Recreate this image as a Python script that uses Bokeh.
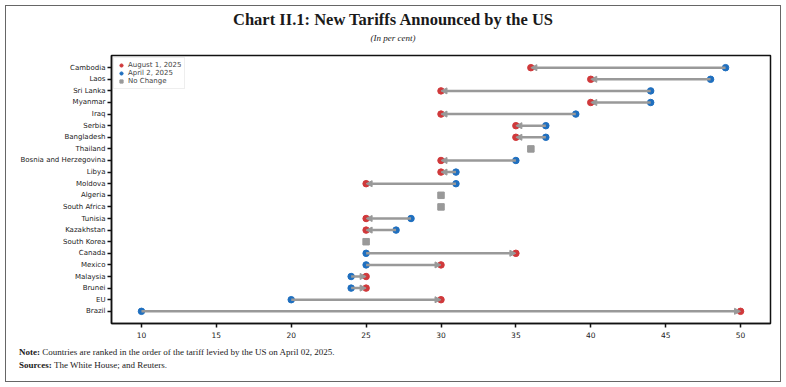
from bokeh.plotting import figure
from bokeh.models import (ColumnDataSource, FactorRange, Range1d, Arrow, Div, Column,
                          NormalHead, Legend, LegendItem, SingleIntervalTicker)
from bokeh.embed import file_html
from bokeh.resources import INLINE

countries = ["Cambodia", "Laos", "Sri Lanka", "Myanmar", "Iraq", "Serbia", "Bangladesh",
             "Thailand", "Bosnia and Herzegovina", "Libya", "Moldova", "Algeria",
             "South Africa", "Tunisia", "Kazakhstan", "South Korea", "Canada", "Mexico",
             "Malaysia", "Brunei", "EU", "Brazil"]
april_2 = [49, 48, 44, 44, 39, 37, 37, 36, 35, 31, 31, 30, 30, 28, 27, 25, 25, 25, 24, 24, 20, 10]
august_1 = [36, 40, 30, 40, 30, 35, 35, 36, 30, 30, 25, 30, 30, 25, 25, 25, 35, 30, 25, 25, 30, 50]
x_ticks_interval = 5

title_text = "Chart II.1: New Tariffs Announced by the US"
subtitle_text = "(In per cent)"
note_text = "Countries are ranked in the order of the tariff levied by the US on April 02, 2025."
source_text = "The White House; and Reuters."

RED = "#d0393b"
BLUE = "#1f6fbf"
GRAY = "#999999"

changed = [a != b for a, b in zip(april_2, august_1)]
chg = ColumnDataSource(dict(
    country=[c for c, m in zip(countries, changed) if m],
    apr=[v for v, m in zip(april_2, changed) if m],
    aug=[v for v, m in zip(august_1, changed) if m],
))
same = ColumnDataSource(dict(
    country=[c for c, m in zip(countries, changed) if not m],
    val=[v for v, m in zip(april_2, changed) if not m],
))

p = figure(width=786, height=293, output_backend="svg", toolbar_location=None,
           y_range=FactorRange(factors=list(reversed(countries)), range_padding=0.05),
           x_range=Range1d(8, 52), margin=0,
           min_border_left=111, min_border_right=16, min_border_top=5, min_border_bottom=20)
p.xgrid.visible = False
p.ygrid.visible = False
p.outline_line_color = "#111111"
p.outline_line_width = 1.5
p.background_fill_color = "white"
p.border_fill_color = None

# connecting lines with arrow heads pointing to the Aug 1 value
p.add_layout(Arrow(end=NormalHead(size=6, fill_color=GRAY, line_color=GRAY, line_width=1),
                   x_start="apr", y_start="country", x_end="aug", y_end="country",
                   source=chg, line_color=GRAY, line_width=2.5))

r_aug = p.scatter("aug", "country", source=chg, size=6.5, color=RED, marker="circle")
r_apr = p.scatter("apr", "country", source=chg, size=6.5, color=BLUE, marker="circle")
r_same = p.scatter("val", "country", source=same, size=6.5, color=GRAY, marker="square")

legend = Legend(items=[LegendItem(label="August 1, 2025", renderers=[r_aug]),
                       LegendItem(label="April 2, 2025", renderers=[r_apr]),
                       LegendItem(label="No Change", renderers=[r_same])],
                location="top_left", margin=2, padding=3, spacing=0,
                label_text_font="DejaVu Sans", label_text_font_size="7px",
                label_height=8, glyph_height=8, glyph_width=8, label_standoff=3,
                border_line_color="#dddddd", background_fill_alpha=0.9)
p.add_layout(legend)

for ax in (p.xaxis[0], p.yaxis[0]):
    ax.axis_line_color = "#111111"
    ax.axis_line_width = 1.5
    ax.major_tick_line_color = "#111111"
    ax.major_tick_line_width = 1.5
    ax.major_tick_out = 4
    ax.major_tick_in = 0
    ax.minor_tick_line_color = None
    ax.major_label_text_font = "DejaVu Sans"
    ax.major_label_text_color = "#222222"
    ax.major_label_standoff = 2

p.xaxis[0].ticker = SingleIntervalTicker(interval=x_ticks_interval)
p.xaxis[0].major_label_text_font_size = "7.5px"
p.xaxis[0].major_label_standoff = 4
p.yaxis[0].major_label_text_font_size = "7px"

serif = "font-family:'Liberation Serif',serif;color:#1a1a1a;"
top = Div(width=786, height=50, margin=0, text=(
    f"<div style=\"{serif}width:786px;text-align:center;\">"
    f"<div style=\"font-size:16.5px;font-weight:bold;line-height:16px;padding-top:12px;\">{title_text}</div>"
    f"<div style=\"font-size:9px;font-style:italic;line-height:10px;padding-top:5px;\">{subtitle_text}</div>"
    f"</div>"))
bottom = Div(width=786, height=44, margin=0, text=(
    f"<div style=\"{serif}font-size:9px;line-height:13px;padding-left:19px;padding-top:3px;\">"
    f"<div><b>Note:</b> {note_text}</div>"
    f"<div><b>Sources:</b> {source_text}</div>"
    f"</div>"))

layout = Column(children=[top, p, bottom], spacing=0, width=786, height=387, margin=0,
                styles={"outline": "1px solid #666666", "outline-offset": "-6px"})

open("out.html", "w").write(file_html(layout, INLINE))
